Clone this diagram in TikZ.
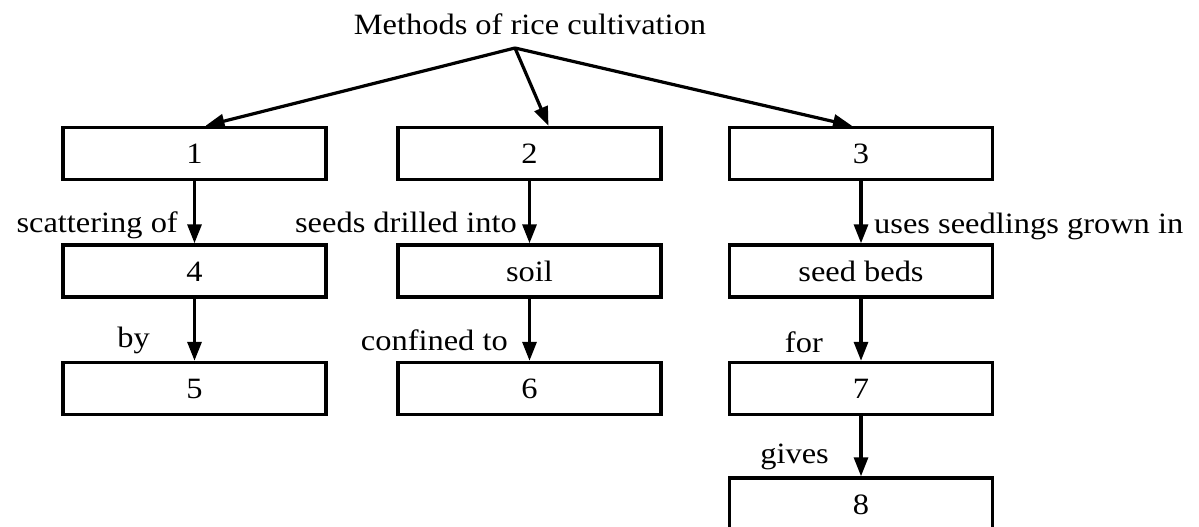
\documentclass[tikz,border=0pt]{standalone}
\usepackage{fontspec}
\setmainfont{Liberation Serif}[FakeStretch=1.1]
\usetikzlibrary{arrows.meta}

\tikzset{
  every node/.style={font=\fontsize{29.5pt}{34pt}\selectfont},
  stepbox/.style={draw, line width=3.4pt, minimum width=263pt, minimum height=52pt,
    inner sep=0pt, text height=20pt, text depth=0pt},
  link/.style={line width=3.2pt, -{Triangle[length=19pt,width=14pt]}},
  lbl/.style={inner sep=0pt}
}

\begin{document}
\begin{tikzpicture}[x=1pt, y=-1pt]
  \useasboundingbox (0,0) rectangle (1199,527);
  \clip (0,0) rectangle (1199,527);

  % heading and the point the three branches leave from
  \node[lbl, anchor=base] (title) at (530,35) {Methods of rice cultivation};
  \coordinate (apex) at (515,48);

  % first row: the three methods
  \node[stepbox] (b1) at (194.5,153.5) {1};
  \node[stepbox] (b2) at (529.5,153.5) {2};
  \node[stepbox] (b3) at (861,153.5) {3};

  % second row
  \node[stepbox] (b4) at (194.5,271) {4};
  \node[stepbox] (soil) at (529.5,271) {soil};
  \node[stepbox] (beds) at (861,271) {seed beds};

  % third row
  \node[stepbox] (b5) at (194.5,388.5) {5};
  \node[stepbox] (b6) at (529.5,388.5) {6};
  \node[stepbox] (b7) at (861,388.5) {7};

  % fourth row
  \node[stepbox] (b8) at (861,504) {8};

  % branches from the heading
  \draw[link] (apex) -- ([xshift=11pt]b1.north);
  \draw[link] (apex) -- ([xshift=19pt]b2.north);
  \draw[link] (apex) -- ([xshift=-9pt]b3.north);

  % vertical links
  \draw[link] (b1) -- (b4);
  \draw[link] (b4) -- (b5);
  \draw[link] (b2) -- (soil);
  \draw[link] (soil) -- (b6);
  \draw[link] (b3) -- (beds);
  \draw[link] (beds) -- (b7);
  \draw[link] (b7) -- (b8);

  % link labels
  \node[lbl, anchor=base east] (l1) at (178,232) {scattering of};
  \node[lbl, anchor=base east] (l2) at (150,347) {by};
  \node[lbl, anchor=base east] (l3) at (517,232) {seeds drilled into};
  \node[lbl, anchor=base east] (l4) at (508,350) {confined to};
  \node[lbl, anchor=base west] (l5) at (874,233) {uses seedlings grown in};
  \node[lbl, anchor=base east] (l6) at (823,352) {for};
  \node[lbl, anchor=base east] (l7) at (829,463) {gives};
\end{tikzpicture}
\end{document}
